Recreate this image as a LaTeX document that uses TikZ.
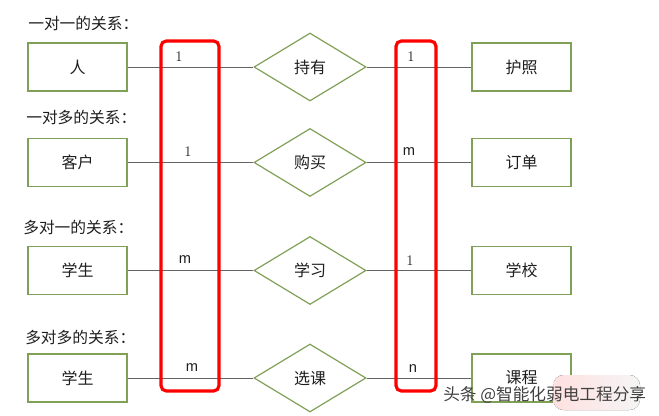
\documentclass[tikz,border=0pt]{standalone}
\usepackage{fontspec}
\newfontfamily\cjk{Noto Sans CJK SC}
\newfontfamily\lsans{Liberation Sans}
\usetikzlibrary{shapes.geometric}
\definecolor{boxgreen}{RGB}{128,160,88}
\definecolor{linegray}{RGB}{100,100,100}
\definecolor{txt}{RGB}{30,30,30}
\tikzset{
  entity/.style={draw=boxgreen, line width=1.1pt, minimum width=74.25pt, minimum height=36pt, inner sep=0pt, font=\cjk\fontsize{12}{14}\selectfont, text=txt},
  rel/.style={draw=boxgreen, line width=0.9pt, diamond, aspect=1.647, minimum width=84pt, minimum height=51pt, inner sep=0pt, font=\cjk\fontsize{12}{14}\selectfont, text=txt},
  title/.style={anchor=west, inner sep=0pt, font=\cjk\fontsize{11.8}{13}\selectfont, text=txt},
  conn/.style={draw=linegray, line width=0.65pt},
  cardser/.style={inner sep=0pt, font=\fontsize{11}{12}\selectfont, text=txt},
  cardsans/.style={inner sep=0pt, font=\lsans\fontsize{11}{12}\selectfont, text=txt},
  redbox/.style={draw=red, line width=2.4pt, rounded corners=4pt},
}
\begin{document}
\begin{tikzpicture}[x=0.75pt,y=-0.75pt]
\useasboundingbox (0,0) rectangle (659,416);
% titles
\node[title] (t1) at (28,23) {一对一的关系：};
\node[title] (t2) at (26,118) {一对多的关系：};
\node[title] (t3) at (23,228) {多对一的关系：};
\node[title] (t4) at (25,338) {多对多的关系：};
% row 1
\node[entity] (a1) at (77.5,67) {人};
\node[rel] (r1) at (310,67) {持有};
\node[entity] (b1) at (521.5,67) {护照};
% row 2
\node[entity] (a2) at (77.5,162.5) {客户};
\node[rel] (r2) at (310,162.5) {购买};
\node[entity] (b2) at (521.5,162.5) {订单};
% row 3
\node[entity] (a3) at (77.5,270.5) {学生};
\node[rel] (r3) at (310,270.5) {学习};
\node[entity] (b3) at (521.5,270.5) {学校};
% row 4
\node[entity] (a4) at (77.5,378) {学生};
\node[rel] (r4) at (310,378) {选课};
\node[entity] (b4) at (521.5,378) {课程};
% connectors
\foreach \i in {1,2,3,4}{
  \draw[conn] (a\i.east) -- (r\i.west);
  \draw[conn] (r\i.east) -- (b\i.west);
}
% cardinalities
\node[cardser] (c1l) at (179,57) {1};
\node[cardser] (c1r) at (411,57) {1};
\node[cardser] (c2l) at (188,152) {1};
\node[cardsans] (c2r) at (409,152) {m};
\node[cardsans] (c3l) at (185,260) {m};
\node[cardser] (c3r) at (410,261) {1};
\node[cardsans] (c4l) at (192,368) {m};
\node[cardsans] (c4r) at (413,369) {n};
% red highlight boxes
\draw[redbox] (161,41) rectangle (219,391);
\draw[redbox] (396,41) rectangle (436,391);
% watermark
\fill[left color=red!12, right color=gray!8, rounded corners=8pt] (553,375) rectangle (640,410);
\node[inner sep=0pt, anchor=west, font=\cjk\fontsize{12.5}{14}\selectfont, text=black!75] (wm) at (443,395) {头条 @智能化弱电工程分享};
\end{tikzpicture}
\end{document}
